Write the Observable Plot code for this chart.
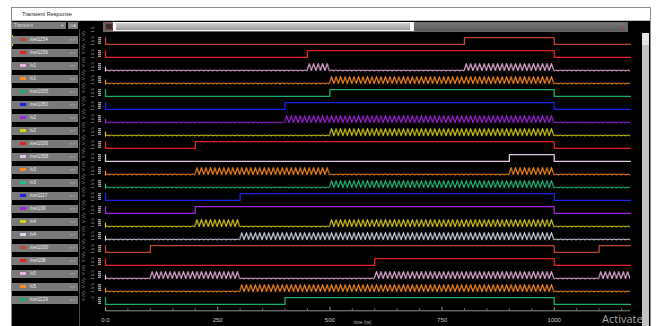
<!DOCTYPE html>
<html>
<head>
<meta charset="utf-8">
<script src="https://cdn.jsdelivr.net/npm/d3@7"></script>
<script src="https://cdn.jsdelivr.net/npm/@observablehq/plot@0.6"></script>
<style>
  html, body { margin: 0; padding: 0; }
  body { width: 660px; height: 326px; overflow: hidden; position: relative; background: #fff;
         font-family: "Liberation Sans", "DejaVu Sans", sans-serif; }
  .abs { position: absolute; box-sizing: border-box; }
  #win { left: 11px; top: 7px; width: 640px; height: 330px; background: #000; border: 1px solid #8c8c8c; }
  #titlebar { left: 12px; top: 8px; width: 638px; height: 13px; background: #fff; border-bottom: 1px solid #bdbdbd; }
  #titlebar span { position: absolute; left: 10px; top: 3px; font-size: 5.6px; color: #222; white-space: nowrap; }
  #dd { left: 12px; top: 21.5px; width: 54px; height: 7px; background: #7b7b7b; }
  #dd span { position: absolute; top: 1px; font-size: 4.6px; color: #d8d8d8; white-space: nowrap; }
  #unit { left: 67.5px; top: 21.5px; width: 10.5px; height: 7px; background: #7b7b7b; }
  #unit span { position: absolute; left: 1.5px; top: 1px; font-size: 4.4px; color: #d8d8d8; }
  #hbar { left: 103px; top: 21.5px; width: 525px; height: 10px; background: #666; }
  #sep { left: 79px; top: 29px; width: 1px; height: 300px; background: #4a4a4a; }
  #vbar { left: 642px; top: 33px; width: 7px; height: 300px; background: #c3c3c3; }
  #vthumb { left: 642px; top: 33px; width: 7px; height: 12px; background: #e6e6e6; }
  #plot { left: 80px; top: 32px; }
  .lab { position: absolute; left: 12px; width: 66px; height: 8px; background: #7a7a7a; }
  .lab .sw { position: absolute; left: 8px; top: 2.3px; width: 6px; height: 3.4px; }
  .lab .nm { position: absolute; left: 17.5px; top: 1.2px; font-size: 4.8px; color: #ececec; white-space: nowrap; }
  .lab .ar { position: absolute; right: 3px; top: 1.2px; font-size: 4.4px; color: #c4c4c4; }
  .ico { position: absolute; left: 98px; width: 3px; height: 7px;
         background: repeating-linear-gradient(180deg, #9a9a9a 0 1px, #3c3c3c 1px 2px); }
  #wm { left: 602px; top: 313px; font-size: 11px; line-height: 11px; color: #a9a9a9; font-family: "Open Sans", "Liberation Sans", sans-serif; white-space: nowrap; }
  #xtitle { left: 354px; top: 320px; font-size: 4.5px; line-height: 5px; color: #bbb; white-space: nowrap; }
</style>
</head>
<body>
<div id="win" class="abs"></div>
<div id="titlebar" class="abs"><span>Transient Response</span></div>
<div id="dd" class="abs"><span style="left:2px">Transient</span><span style="left:49px">▾</span></div>
<div id="unit" class="abs"><span>V/A</span></div>
<div id="hbar" class="abs">
  <div class="abs" style="left:2px;top:1.5px;width:8px;height:7px;background:#3b2c2c;border:1px solid #7a4040"></div>
  <div class="abs" style="left:10px;top:0.5px;width:301px;height:9px;background:linear-gradient(#d0d0d0,#9c9c9c);border:1px solid #f2f2f2"></div>
  <div class="abs" style="left:10px;top:0.5px;width:3px;height:9px;background:#fff"></div>
  <div class="abs" style="left:307px;top:0.5px;width:3px;height:9px;background:#fff"></div>
  <div class="abs" style="left:312px;top:1px;width:211px;height:8px;background:linear-gradient(#777,#5a5a5a)"></div>
  <div class="abs" style="left:519px;top:4px;width:2px;height:2px;background:#a04848"></div>
</div>
<div id="sep" class="abs"></div>
<div id="vbar" class="abs"></div>
<div id="vthumb" class="abs"></div>
<div id="labels"></div>
<div id="plot" class="abs"></div>
<div id="xtitle" class="abs">time (ns)</div>
<div id="wm" class="abs">Activate</div>

<script>
// Simulation window (ns)
const tEnd = 1170;
// Period of the oscillating node voltages (ns)
const wavePeriod = 10;

// Waveform list, top to bottom
const rowNames = ["/net1154", "/net1156", "/v1", "/v1", "/net1035", "/net1050", "/v2", "/v2",
                  "/net1036", "/net1058", "/v3", "/v3", "/net1117", "/net109", "/v4", "/v4",
                  "/net1030", "/net108", "/v5", "/v5", "/net1129"];
const rowColors = ["#b9492f", "#e4211d", "#ecb4de", "#ff8c1e", "#1fae6b", "#1d22e8", "#9d25dc", "#dad116",
                   "#e4211d", "#dfc6e4", "#ff8c1e", "#22c27d", "#1d22e8", "#9d25dc", "#dad116", "#d6dcee",
                   "#b9492f", "#e4211d", "#ecb4de", "#ff8c1e", "#1fae6b"];
// "logic": switched control line, "wave": oscillating node voltage
const rowKinds = ["logic", "logic", "wave", "wave", "logic", "logic", "wave", "wave",
                  "logic", "logic", "wave", "wave", "logic", "logic", "wave", "wave",
                  "logic", "logic", "wave", "wave", "logic"];
// Intervals (ns) where a logic line is high, or where a node oscillates
const rowActive = [
  [[800, 1000]],
  [[450, 1000]],
  [[450, 500], [800, 1000]],
  [[500, 1000]],
  [[500, 1000]],
  [[400, 1000]],
  [[400, 1000]],
  [[500, 1000]],
  [[200, 1000]],
  [[900, 1000]],
  [[200, 500], [900, 1000]],
  [[500, 1000]],
  [[300, 1000]],
  [[200, 1000]],
  [[200, 300], [500, 1000]],
  [[300, 1000]],
  [[100, 1000], [1100, 1170]],
  [[600, 1000]],
  [[100, 300], [600, 1000], [1100, 1170]],
  [[300, 1000]],
  [[400, 1000]]
];
// Time axis
const axisTicks = [0, 250, 500, 750, 1000];
const axisTickLabels = ["0.0", "250", "500", "750", "1000"];
const minorTicks = [50, 100, 150, 200, 300, 350, 400, 450, 550, 600, 650, 700, 800, 850, 900, 950, 1050, 1100, 1150];

const rows = rowNames.map((name, i) => ({i, name, color: rowColors[i], kind: rowKinds[i], active: rowActive[i]}));
const palette = [...new Set(rowColors)];
const lastRow = rows.length - 1;

// Level layout inside each strip (strip units)
const yLo = -0.451, yHi = 1.452;

// Logic lines: step outline from the high intervals
const logicPts = rows.filter(r => r.kind === "logic").flatMap(r => {
  const p = [{i: r.i, t: 0, v: 1}, {i: r.i, t: 0, v: 0}];
  let level = 0;
  for (const [s, e] of r.active) {
    p.push({i: r.i, t: s, v: 0}, {i: r.i, t: s, v: 1});
    if (e < tEnd) { p.push({i: r.i, t: e, v: 1}, {i: r.i, t: e, v: 0}); level = 0; }
    else { p.push({i: r.i, t: tEnd, v: 1}); level = 1; }
  }
  if (level === 0) p.push({i: r.i, t: tEnd, v: 0});
  return p;
});

// Oscillating nodes: bursts and the quiet stretches between them
const waveRows = rows.filter(r => r.kind === "wave");
const bursts = waveRows.flatMap(r => r.active.map(([s, e]) => ({i: r.i, color: r.color, t1: s, t2: e})));
const quiet = waveRows.flatMap(r => {
  const q = []; let t = 0;
  for (const [s, e] of r.active) { if (s > t) q.push({i: r.i, color: r.color, t1: t, t2: s}); t = e; }
  if (t < tEnd) q.push({i: r.i, color: r.color, t1: t, t2: tEnd});
  return q;
});
const waveStarts = waveRows.flatMap(r => [{i: r.i, t: 0, v: 0.5}, {i: r.i, t: 0, v: -0.1}]);

const chart = Plot.plot({
  width: 562,
  height: 294,
  marginLeft: 25,
  marginRight: 12,
  marginTop: 1.08,
  marginBottom: 17.1,
  style: {background: "transparent", overflow: "visible", fontFamily: "Liberation Sans, DejaVu Sans, sans-serif"},
  x: {domain: [0, tEnd], axis: null},
  y: {domain: [yLo, yHi], axis: null},
  fy: {domain: rows.map(r => r.i), padding: 0, axis: null},
  color: {type: "identity"},
  marks: [
    // per-strip unit and range labels
    Plot.text(rows, {fy: "i", frameAnchor: "left", dx: -21.5, text: () => "V (V)", rotate: -90, fontSize: 4.2, fill: "#9c9c9c"}),
    Plot.text(rows, {fy: "i", frameAnchor: "left", dx: -13, text: () => "-.5   1.5", rotate: -90, fontSize: 4.2, fill: "#9c9c9c"}),
    // oscillating nodes
    Plot.rect(quiet, {fy: "i", x1: "t1", x2: "t2", y1: () => -0.3, y2: () => 0.1,
      fill: d => `url(#rp${palette.indexOf(d.color)})`}),
    Plot.rect(bursts, {fy: "i", x1: "t1", x2: "t2", y1: () => -0.2, y2: () => 1.0,
      fill: d => `url(#zz${palette.indexOf(d.color)})`}),
    Plot.line(waveStarts, {fy: "i", x: "t", y: "v", z: "i", stroke: d => rowColors[d.i], strokeWidth: 1.2}),
    // logic lines
    Plot.line(logicPts, {fy: "i", x: "t", y: "v", z: "i", stroke: d => rowColors[d.i], strokeWidth: 1.3}),
    // time axis under the last strip
    Plot.ruleY([lastRow], {fy: d => d, y: () => yLo, dy: 3.3, stroke: "#b8b8b8", strokeWidth: 0.8}),
    Plot.ruleX(axisTicks, {x: d => d, fy: () => lastRow, y1: () => yLo, y2: () => yLo + 0.5, dy: 3.3, stroke: "#b8b8b8", strokeWidth: 0.8}),
    Plot.ruleX(minorTicks, {x: d => d, fy: () => lastRow, y1: () => yLo, y2: () => yLo + 0.3, dy: 3.3, stroke: "#9a9a9a", strokeWidth: 0.7}),
    Plot.text(axisTicks, {x: d => d, fy: () => lastRow, y: () => yLo, dy: 12.3, text: (d, k) => axisTickLabels[k], fill: "#c8c8c8", fontSize: 6})
  ]
});

// Zigzag fills for the oscillation bursts and the small residual ripple
{
  const ns = "http://www.w3.org/2000/svg";
  const xs = chart.scale("x"), ys = chart.scale("y");
  const P = wavePeriod * (xs.range[1] - xs.range[0]) / (xs.domain[1] - xs.domain[0]);
  const x0 = xs.apply(0);
  const defs = document.createElementNS(ns, "defs");
  const mk = (id, color, vTop, vBot, vPeak, vTrough, sw) => {
    const top = ys.apply(vTop), h = ys.apply(vBot) - top;
    const a = ys.apply(vPeak) - top, b = ys.apply(vTrough) - top;
    const pat = document.createElementNS(ns, "pattern");
    pat.setAttribute("id", id);
    pat.setAttribute("patternUnits", "userSpaceOnUse");
    pat.setAttribute("x", x0); pat.setAttribute("y", top);
    pat.setAttribute("width", P); pat.setAttribute("height", h);
    const path = document.createElementNS(ns, "path");
    path.setAttribute("d", `M${-P / 2},${a} L0,${b} L${P / 2},${a} L${P},${b} L${1.5 * P},${a}`);
    path.setAttribute("fill", "none");
    path.setAttribute("stroke", color);
    path.setAttribute("stroke-width", sw);
    pat.appendChild(path);
    defs.appendChild(pat);
  };
  palette.forEach((c, k) => {
    mk(`zz${k}`, c, 1.0, -0.2, 0.9, -0.1, 1.1);
    mk(`rp${k}`, c, 0.1, -0.3, 0.0, -0.15, 0.9);
  });
  chart.insertBefore(defs, chart.firstChild);
}

document.getElementById("plot").appendChild(chart);

// Waveform name panel, aligned with the strips
{
  const fy = chart.scale("fy");
  const bw = fy.bandwidth;
  const top = 32;
  const panel = document.getElementById("labels");
  rows.forEach(r => {
    const c = top + fy.apply(r.i) + bw / 2;
    const box = document.createElement("div");
    box.className = "lab";
    box.style.top = (c - 5) + "px";
    box.innerHTML = `<div class="sw" style="background:${r.color}"></div><div class="nm"></div><div class="ar">&lt;&gt;</div>`;
    box.querySelector(".nm").textContent = r.name;
    panel.appendChild(box);
    const ico = document.createElement("div");
    ico.className = "ico";
    ico.style.top = (c - 4) + "px";
    panel.appendChild(ico);
  });
  // selection brackets on the first entry
  const c0 = top + fy.apply(0) + bw / 2;
  [c0 - 5.5, c0 + 3.5].forEach(y => {
    const m = document.createElement("div");
    m.className = "abs";
    m.style.cssText = `left:11.5px;top:${y}px;width:1.5px;height:2px;background:#e8d020;position:absolute`;
    panel.appendChild(m);
  });
}
</script>
</body>
</html>
